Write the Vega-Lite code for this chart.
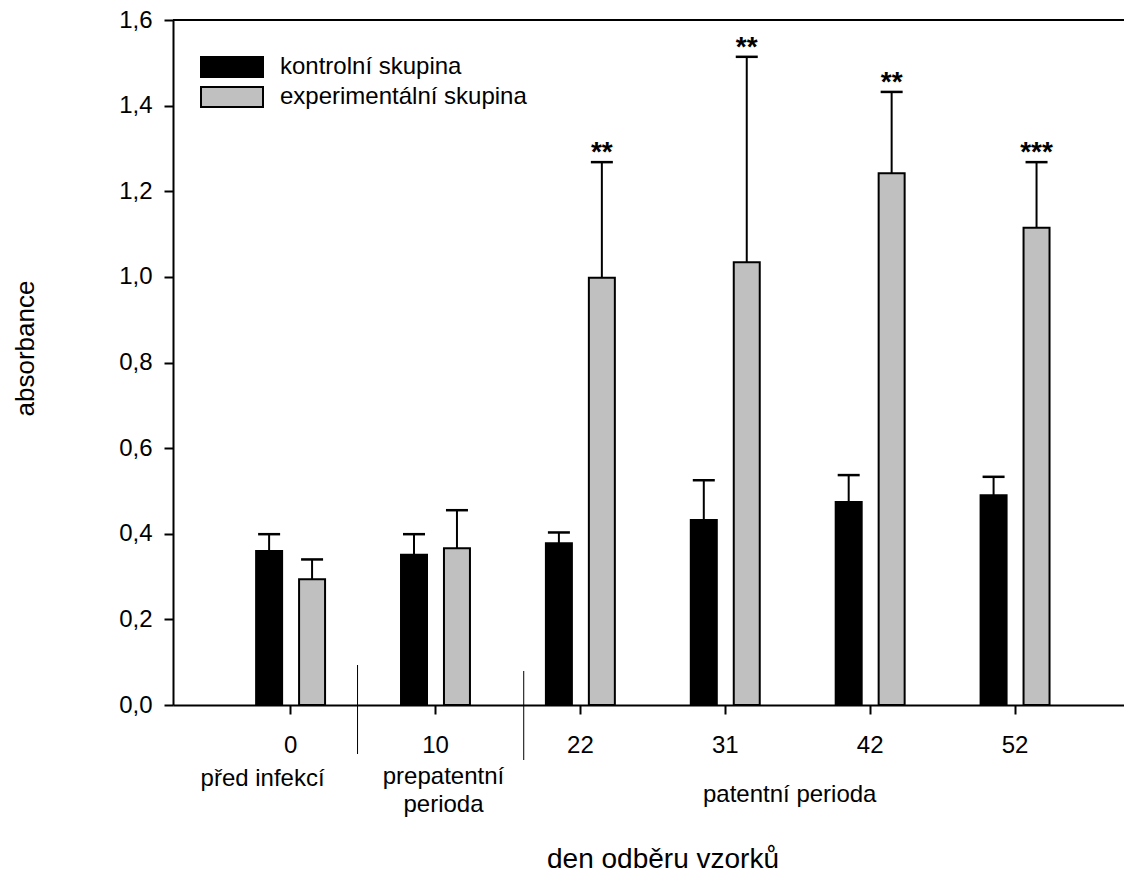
{
  "$schema": "https://vega.github.io/schema/vega-lite/v6.json",
  "width": 951,
  "height": 685,
  "autosize": {"type": "none"},
  "padding": {"left": 173, "top": 20, "right": 0, "bottom": 171},
  "background": "white",
  "config": {
    "font": "Liberation Sans",
    "view": {"stroke": null},
    "axis": {"domainColor": "black", "tickColor": "black", "labelColor": "black", "titleColor": "black", "grid": false, "domainWidth": 2, "tickWidth": 2, "titleFontWeight": "normal"}
  },
  "datasets": {
    "bars": [
      {"day": "0", "group": "kontrolní skupina", "mean": 0.360, "upper": 0.399, "sig": ""},
      {"day": "0", "group": "experimentální skupina", "mean": 0.294, "upper": 0.340, "sig": ""},
      {"day": "10", "group": "kontrolní skupina", "mean": 0.351, "upper": 0.399, "sig": ""},
      {"day": "10", "group": "experimentální skupina", "mean": 0.366, "upper": 0.455, "sig": ""},
      {"day": "22", "group": "kontrolní skupina", "mean": 0.378, "upper": 0.403, "sig": ""},
      {"day": "22", "group": "experimentální skupina", "mean": 0.998, "upper": 1.268, "sig": "**"},
      {"day": "31", "group": "kontrolní skupina", "mean": 0.432, "upper": 0.525, "sig": ""},
      {"day": "31", "group": "experimentální skupina", "mean": 1.034, "upper": 1.514, "sig": "**"},
      {"day": "42", "group": "kontrolní skupina", "mean": 0.474, "upper": 0.537, "sig": ""},
      {"day": "42", "group": "experimentální skupina", "mean": 1.242, "upper": 1.432, "sig": "**"},
      {"day": "52", "group": "kontrolní skupina", "mean": 0.490, "upper": 0.533, "sig": ""},
      {"day": "52", "group": "experimentální skupina", "mean": 1.115, "upper": 1.268, "sig": "***"}
    ],
    "periods": [
      {"day": "0", "period": "před infekcí"},
      {"day": "10", "period": "prepatentní perioda"},
      {"day": "31", "period": "patentní perioda"}
    ]
  },
  "layer": [
    {
      "data": {"name": "bars"},
      "mark": {"type": "bar", "stroke": "black", "strokeWidth": 2},
      "encoding": {
        "x": {"field": "day", "type": "ordinal", "sort": ["0", "10", "22", "31", "42", "52"],
          "scale": {"paddingInner": 0, "paddingOuter": 0.2817, "align": 0.553},
          "axis": {"title": "den odběru vzorků", "labelAngle": 0, "tickSize": 9, "labelPadding": 19, "labelFontSize": 24, "titleFontSize": 28, "titleX": 489.5, "titleY": 162, "titleBaseline": "alphabetic", "titleAlign": "center"}},
        "xOffset": {"field": "group", "type": "nominal", "sort": ["kontrolní skupina", "experimentální skupina"],
          "scale": {"paddingInner": 0.395, "paddingOuter": 0.884}},
        "y": {"field": "mean", "type": "quantitative",
          "scale": {"domain": [0, 1.6], "nice": false, "zero": true},
          "axis": {"title": "absorbance", "values": [0, 0.2, 0.4, 0.6, 0.8, 1.0, 1.2, 1.4, 1.6],
            "labelExpr": "replace(format(datum.value, '.1f'), '.', ',')",
            "tickSize": 9, "labelPadding": 12, "labelFontSize": 24, "titleFontSize": 26,
            "titleX": -140, "titleY": 328, "titleBaseline": "alphabetic", "titleAngle": -90, "titleAlign": "center"}},
        "color": {"field": "group", "type": "nominal",
          "scale": {"domain": ["kontrolní skupina", "experimentální skupina"], "range": ["#000000", "#c0c0c0"]},
          "legend": {"orient": "none", "legendX": 27, "legendY": 32, "title": null,
            "symbolType": "M-1,-0.32L1,-0.32L1,0.32L-1,0.32Z", "symbolSize": 3844,
            "symbolStrokeColor": "black", "symbolStrokeWidth": 2, "symbolOpacity": 1,
            "labelFontSize": 24, "labelColor": "black", "labelOffset": 16, "labelLimit": 600, "clipHeight": 30, "rowPadding": 0, "padding": 0}}
      }
    },
    {
      "data": {"name": "bars"},
      "mark": {"type": "rule", "color": "black", "strokeWidth": 2},
      "encoding": {
        "x": {"field": "day", "type": "ordinal", "sort": ["0", "10", "22", "31", "42", "52"]},
        "xOffset": {"field": "group", "type": "nominal", "sort": ["kontrolní skupina", "experimentální skupina"]},
        "y": {"field": "mean", "type": "quantitative"},
        "y2": {"field": "upper"}
      }
    },
    {
      "data": {"name": "bars"},
      "mark": {"type": "tick", "color": "black", "thickness": 2.5, "size": 22, "opacity": 1},
      "encoding": {
        "x": {"field": "day", "type": "ordinal", "sort": ["0", "10", "22", "31", "42", "52"]},
        "xOffset": {"field": "group", "type": "nominal", "sort": ["kontrolní skupina", "experimentální skupina"]},
        "y": {"field": "upper", "type": "quantitative"}
      }
    },
    {
      "data": {"name": "bars"},
      "transform": [{"filter": "datum.sig != ''"}],
      "mark": {"type": "text", "fontSize": 28, "fontWeight": "bold", "baseline": "alphabetic", "align": "center", "dy": -1, "color": "black"},
      "encoding": {
        "x": {"field": "day", "type": "ordinal", "sort": ["0", "10", "22", "31", "42", "52"]},
        "xOffset": {"field": "group", "type": "nominal", "sort": ["kontrolní skupina", "experimentální skupina"]},
        "y": {"field": "upper", "type": "quantitative"},
        "text": {"field": "sig"}
      }
    },
    {
      "data": {"name": "periods"},
      "transform": [{"filter": "datum.day == '0'"}],
      "mark": {"type": "rule", "color": "black", "strokeWidth": 1},
      "encoding": {
        "x": {"field": "day", "type": "ordinal", "bandPosition": 0.962},
        "y": {"datum": 0.0934, "type": "quantitative"},
        "y2": {"datum": -0.1145}
      }
    },
    {
      "data": {"name": "bars"},
      "transform": [{"filter": "datum.day == '22' && datum.group == 'kontrolní skupina'"}],
      "mark": {"type": "rule", "color": "black", "strokeWidth": 1},
      "encoding": {
        "x": {"field": "day", "type": "ordinal", "bandPosition": 0.109},
        "y": {"datum": 0.0794, "type": "quantitative"},
        "y2": {"datum": -0.1285}
      }
    },
    {
      "data": {"name": "periods"},
      "transform": [{"filter": "datum.day == '0'"}],
      "mark": {"type": "text", "fontSize": 24, "baseline": "alphabetic", "align": "center", "dx": -28, "color": "black"},
      "encoding": {
        "x": {"field": "day", "type": "ordinal", "bandPosition": 0.5},
        "y": {"datum": -0.1885, "type": "quantitative"},
        "text": {"field": "period"}
      }
    },
    {
      "data": {"name": "periods"},
      "transform": [{"filter": "datum.day == '10'"}],
      "mark": {"type": "text", "fontSize": 24, "baseline": "alphabetic", "align": "center", "dx": 8, "lineHeight": 28, "lineBreak": " ", "color": "black"},
      "encoding": {
        "x": {"field": "day", "type": "ordinal", "bandPosition": 0.5},
        "y": {"datum": -0.1845, "type": "quantitative"},
        "text": {"field": "period"}
      }
    },
    {
      "data": {"name": "periods"},
      "transform": [{"filter": "datum.day == '31'"}],
      "mark": {"type": "text", "fontSize": 24, "baseline": "alphabetic", "align": "center", "dx": -8, "color": "black"},
      "encoding": {
        "x": {"field": "day", "type": "ordinal", "bandPosition": 1},
        "y": {"datum": -0.2266, "type": "quantitative"},
        "text": {"field": "period"}
      }
    },
    {
      "data": {"values": [{}]},
      "mark": {"type": "rule", "color": "black", "strokeWidth": 2},
      "encoding": {"y": {"datum": 1.6, "type": "quantitative"}}
    }
  ]
}
